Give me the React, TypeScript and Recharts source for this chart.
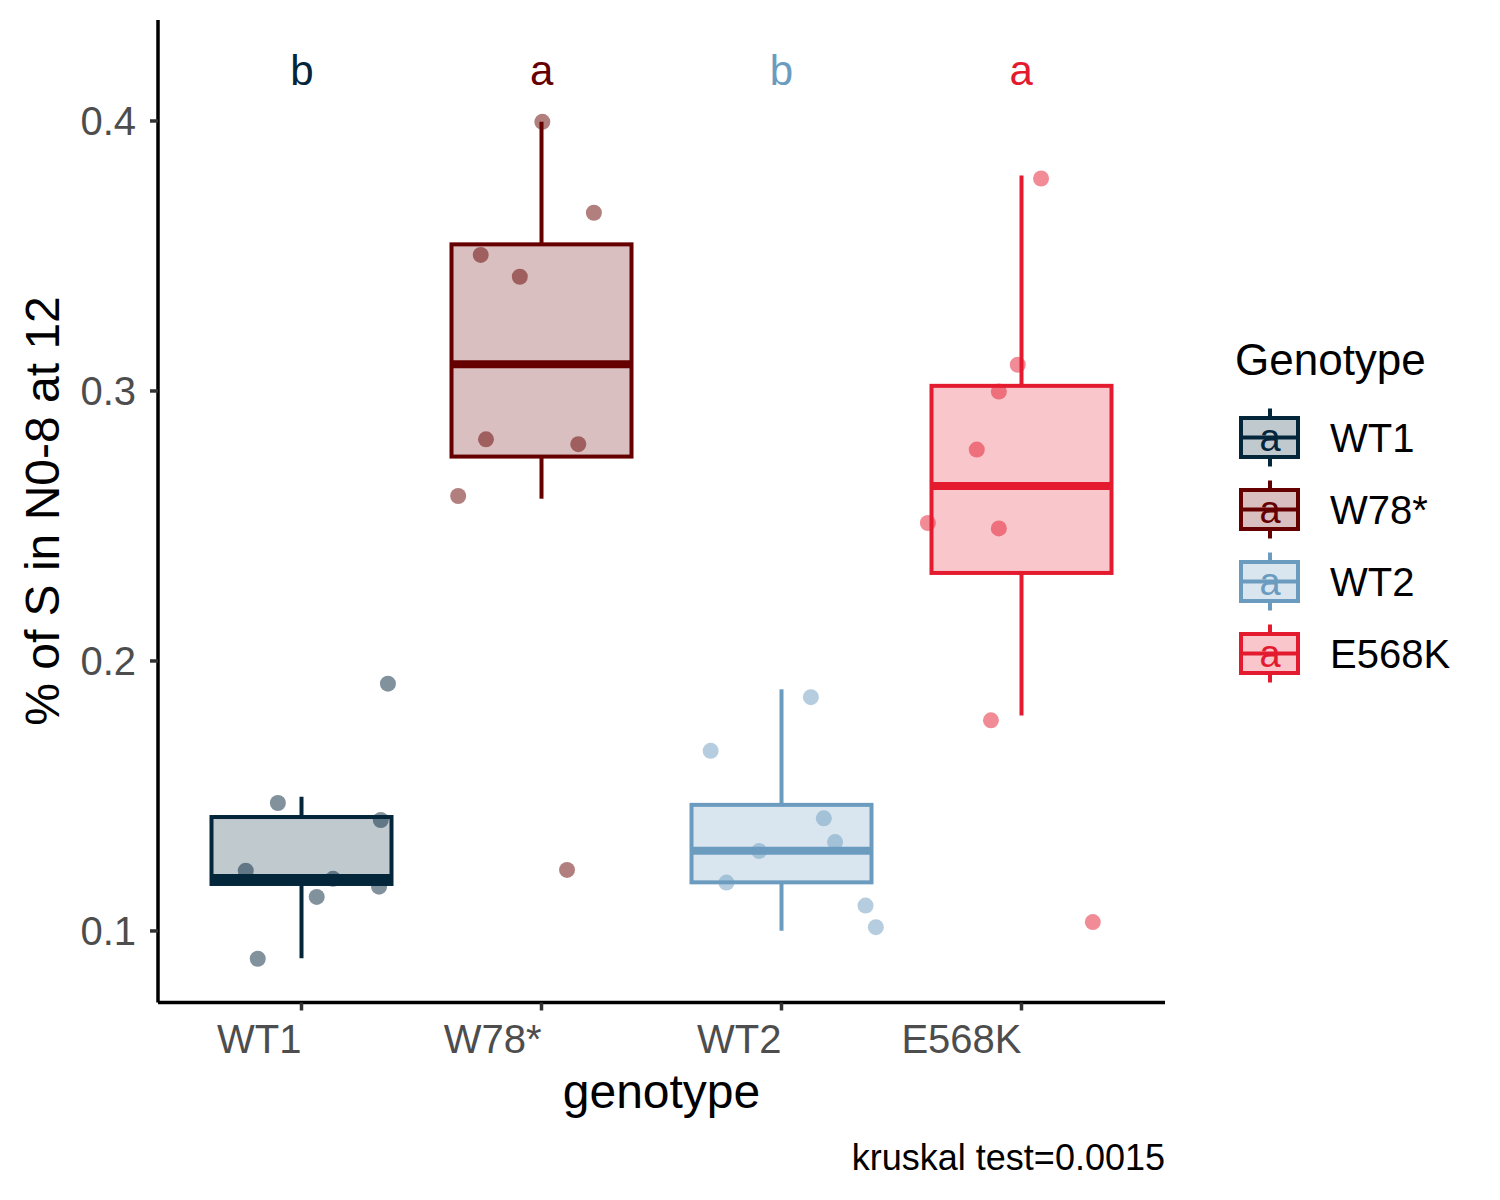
import { ComposedChart, Bar, Scatter, XAxis, YAxis } from "recharts";

const genotypes = ["WT1", "W78*", "WT2", "E568K"];
const colors = ["#04263B", "#660000", "#6B9CBF", "#E41A2F"];
const letters = ["b", "a", "b", "a"];

// box stats
const whiskerLow = [0.0899, 0.2601, 0.1001, 0.1798];
const q1 = [0.1174, 0.2757, 0.118, 0.2326];
const median = [0.1196, 0.3099, 0.1297, 0.2648];
const q3 = [0.1422, 0.3543, 0.1467, 0.3019];
const whiskerHigh = [0.1497, 0.3997, 0.1895, 0.3798];

// jittered observations: value and horizontal offset from the group centre
const wt1Values = [0.1916, 0.1474, 0.1411, 0.1223, 0.1193, 0.1164, 0.1126, 0.0897];
const wt1Jitter = [0.359, -0.1, 0.329, -0.234, 0.13, 0.322, 0.062, -0.184];
const w78Values = [0.3997, 0.366, 0.3504, 0.3423, 0.2821, 0.2803, 0.2611, 0.1226];
const w78Jitter = [0.003, 0.218, -0.254, -0.091, -0.232, 0.153, -0.348, 0.106];
const wt2Values = [0.1866, 0.1667, 0.1417, 0.1329, 0.1296, 0.1179, 0.1094, 0.1014];
const wt2Jitter = [0.123, -0.295, 0.177, 0.224, -0.093, -0.229, 0.351, 0.394];
const e568kValues = [0.3787, 0.3097, 0.2998, 0.2783, 0.2511, 0.2491, 0.178, 0.1033];
const e568kJitter = [0.083, -0.014, -0.093, -0.185, -0.389, -0.093, -0.126, 0.299];

const yTicks = [0.1, 0.2, 0.3, 0.4];
const yDomain = [0.0735, 0.4374];
const letterY = 0.4189;

const FONT = '"Liberation Sans", Arial, Helvetica, sans-serif';

const boxData = genotypes.map((g, i) => ({
  genotype: g,
  box: [q1[i], q3[i]],
  lo: whiskerLow[i],
  q1: q1[i],
  med: median[i],
  q3: q3[i],
  hi: whiskerHigh[i],
  color: colors[i],
}));

const groupValues = [wt1Values, w78Values, wt2Values, e568kValues];
const groupJitter = [wt1Jitter, w78Jitter, wt2Jitter, e568kJitter];
const pointSets = groupValues.map((vals, i) =>
  vals.map((v, j) => ({ x: i + 1 + groupJitter[i][j], y: v }))
);

const letterData = letters.map((l, i) => ({ x: i + 1, y: letterY, letter: l, color: colors[i] }));

function BoxShape(props: any) {
  const { x, y, width, height } = props;
  const d = props.payload ?? props;
  const top = Math.min(y, y + height);
  const h = Math.abs(height);
  const per = h / (d.q3 - d.q1);
  const py = (v: number) => top + (d.q3 - v) * per;
  const cx = x + width / 2;
  const c = d.color;
  return (
    <g>
      <line x1={cx} x2={cx} y1={py(d.hi)} y2={top} stroke={c} strokeWidth={4} />
      <line x1={cx} x2={cx} y1={top + h} y2={py(d.lo)} stroke={c} strokeWidth={4} />
      <rect x={x} y={top} width={width} height={h} fill={c} fillOpacity={0.25} stroke={c} strokeWidth={4} />
      <line x1={x} x2={x + width} y1={py(d.med)} y2={py(d.med)} stroke={c} strokeWidth={8} />
    </g>
  );
}

function LegendOverlay() {
  return (
    <svg
      width={1500}
      height={1200}
      style={{ position: "absolute", left: 0, top: 0, pointerEvents: "none", fontFamily: FONT }}
    >
      {/* axis titles and caption */}
      <text x={661.5} y={1108} textAnchor="middle" fontSize={48} fill="#000">
        genotype
      </text>
      <text
        x={0}
        y={0}
        transform="translate(59,511) rotate(-90)"
        textAnchor="middle"
        fontSize={48}
        fill="#000"
      >
        % of S in N0-8 at 12
      </text>
      <text x={1165} y={1170} textAnchor="end" fontSize={36} fill="#000">
        kruskal test=0.0015
      </text>

      {/* legend */}
      <text x={1235} y={375} fontSize={44} fill="#000">
        Genotype
      </text>
      {genotypes.map((g, i) => {
        const cy = 437.5 + i * 72;
        const c = colors[i];
        return (
          <g key={g}>
            <line x1={1270} x2={1270} y1={cy - 29} y2={cy + 29} stroke={c} strokeWidth={4} />
            <rect x={1241} y={cy - 19.5} width={57} height={39} fill="#fff" />
            <rect x={1241} y={cy - 19.5} width={57} height={39} fill={c} fillOpacity={0.25} stroke={c} strokeWidth={4} />
            <line x1={1241} x2={1298} y1={cy} y2={cy} stroke={c} strokeWidth={4} />
            <text x={1270} y={cy} dy="0.35em" textAnchor="middle" fontSize={38} fill={c}>
              a
            </text>
            <text x={1330} y={cy} dy="0.35em" fontSize={40} fill="#000">
              {g}
            </text>
          </g>
        );
      })}
    </svg>
  );
}

export default function App() {
  return (
    <div style={{ position: "absolute", left: 0, top: 0, width: 1500, height: 1200, background: "#fff", fontFamily: FONT }}>
      <ComposedChart
        width={1500}
        height={1200}
        data={boxData}
        margin={{ top: 20, right: 335, bottom: 137.5, left: 78 }}
      >
        <XAxis
          dataKey="genotype"
          type="category"
          height={60}
          padding={{ left: 23.5, right: 23.5 }}
          axisLine={{ stroke: "#000", strokeWidth: 3.5 }}
          tickLine={{ stroke: "#333", strokeWidth: 3.5 }}
          tickSize={8}
          tickMargin={14}
          tick={{ textAnchor: "end", fill: "#4D4D4D", fontSize: 40, fontFamily: FONT }}
          interval={0}
        />
        <XAxis xAxisId="jit" dataKey="x" type="number" domain={[0.4, 4.6]} allowDataOverflow hide />
        <YAxis
          type="number"
          width={80}
          domain={yDomain}
          allowDataOverflow
          ticks={yTicks}
          tickFormatter={(v: number) => v.toFixed(1)}
          axisLine={{ stroke: "#000", strokeWidth: 3.5 }}
          tickLine={{ stroke: "#333", strokeWidth: 3.5 }}
          tickSize={8}
          tickMargin={14}
          tick={{ fill: "#4D4D4D", fontSize: 40, fontFamily: FONT }}
        />
        <Bar dataKey="box" barSize={180} shape={BoxShape} isAnimationActive={false} />
        {pointSets.map((pts, i) => (
          <Scatter
            key={genotypes[i]}
            xAxisId="jit"
            data={pts}
            dataKey="y"
            isAnimationActive={false}
            shape={(p: any) => <circle cx={p.cx} cy={p.cy} r={8} fill={colors[i]} fillOpacity={0.5} />}
          />
        ))}
        <Scatter
          xAxisId="jit"
          data={letterData}
          dataKey="y"
          isAnimationActive={false}
          shape={(p: any) => (
            <text x={p.cx} y={p.cy} dy="0.35em" textAnchor="middle" fontSize={42} fontFamily={FONT} fill={(p.payload ?? p).color}>
              {(p.payload ?? p).letter}
            </text>
          )}
        />
      </ComposedChart>
      <LegendOverlay />
    </div>
  );
}
